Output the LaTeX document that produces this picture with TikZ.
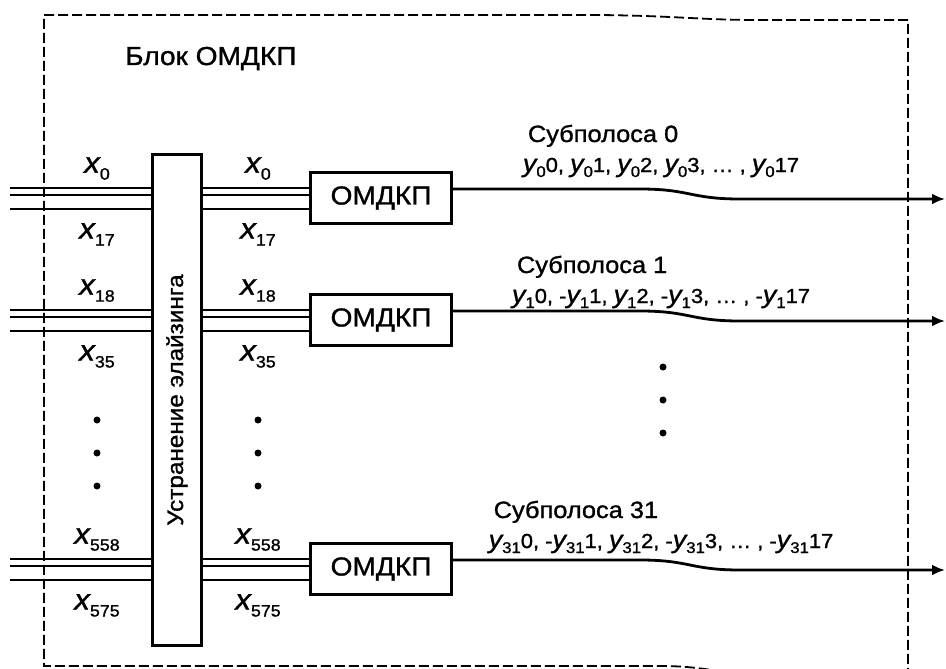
\documentclass[tikz,border=0pt]{standalone}
\usepackage{fontspec}
\setmainfont{Liberation Sans}[FakeStretch=1.08, FakeBold=1.2]
\usetikzlibrary{arrows.meta, positioning}

\newcommand{\xv}[1]{{\fontsize{29}{29}\selectfont\itshape x}\raisebox{-7pt}{\fontsize{16.5}{16.5}\selectfont #1}}
\newcommand{\yv}[1]{{\fontsize{25}{25}\selectfont\itshape y}\raisebox{-5pt}{\fontsize{15.5}{15.5}\selectfont #1}}

\begin{document}
\begin{tikzpicture}[x=1pt, y=-1pt,
    every node/.style={inner sep=0pt},
    blk/.style={draw, line width=2.6pt, minimum width=141pt, minimum height=51pt, font=\fontsize{26}{26}\selectfont},
    bus/.style={line width=2.6pt},
    outarrow/.style={line width=2.8pt, -{Latex[length=13pt, width=11pt]}},
    frame/.style={line width=1.8pt, dash pattern=on 10pt off 4pt},
    xlab/.style={font=\fontsize{21}{21}\selectfont},
    ylab/.style={font=\fontsize{20.3}{20.3}\selectfont, anchor=base},
    band/.style={font=\fontsize{23.5}{23.5}\selectfont, anchor=base west},
    pt/.style={circle, fill, minimum size=7pt}
]
\useasboundingbox (0,0) rectangle (946,669);

% dashed outline of the block
\begin{scope}
\clip (0,0) rectangle (946,669);
\draw[frame] (908,20) -- (760,20) .. controls (700,20) and (680,16) .. (600,15) -- (44,15) -- (44,666) -- (660,666) .. controls (700,666) and (720,672) .. (760,678) -- (908,678) -- cycle;
\end{scope}

\node[font=\fontsize{26}{26}\selectfont, anchor=base west] (title) at (125,65) {Блок ОМДКП};

\node[draw, line width=2.6pt, minimum width=49pt, minimum height=491pt] (dealias) at (177,400) {};
\node[rotate=90, font=\fontsize{22.5}{22.5}\selectfont] (dealiastxt) at (dealias.center) {Устранение элайзинга};

\foreach \n/\ly/\a/\b in {1/188/0/17, 2/310/18/35, 3/559/558/575} {
  \node[blk] (m\n) at (381,\ly+10) {ОМДКП};
  \foreach \k in {0,7,21} {
    \coordinate (in\n-\k) at (10,\ly+\k);
    \draw[bus] (in\n-\k) -- (in\n-\k -| dealias.west);
    \draw[bus] (in\n-\k -| dealias.east) -- (in\n-\k -| m\n.west);
  }
  \node[xlab, anchor=south] (xlt\n) at (97,\ly-8) {\xv{\a}};
  \node[xlab, anchor=north] (xlb\n) at (97,\ly+35) {\xv{\b}};
  \node[xlab, anchor=south] (xrt\n) at (258,\ly-8) {\xv{\a}};
  \node[xlab, anchor=north] (xrb\n) at (258,\ly+35) {\xv{\b}};
  \coordinate (end\n) at (945,\ly+11);
  \draw[outarrow] ([yshift=9pt]m\n.east) -- (640,\ly+1) .. controls (690,\ly+1) and (690,\ly+11) .. (740,\ly+11) -- (end\n);
}

% dots
\foreach \c in {97,258} \foreach \d in {420,453,486} \node[pt] (d\c-\d) at (\c,\d) {};
\foreach \d in {367,400,433} \node[pt] (r\d) at (663,\d) {};

% subband labels
\node[ylab] (y1) at (661,172) {\yv{0}0, \yv{0}1, \yv{0}2, \yv{0}3, … , \yv{0}17};
\node[ylab] (y2) at (661,303) {\yv{1}0, -\yv{1}1, \yv{1}2, -\yv{1}3, … , -\yv{1}17};
\node[ylab] (y3) at (661,548) {\yv{31}0, -\yv{31}1, \yv{31}2, -\yv{31}3, … , -\yv{31}17};
\node[band] (b1) at ([xshift=5pt, yshift=30pt]y1.base west) {Субполоса 0};
\node[band] (b2) at ([xshift=5pt, yshift=30pt]y2.base west) {Субполоса 1};
\node[band] (b3) at ([xshift=5pt, yshift=30pt]y3.base west) {Субполоса 31};
\end{tikzpicture}
\end{document}
